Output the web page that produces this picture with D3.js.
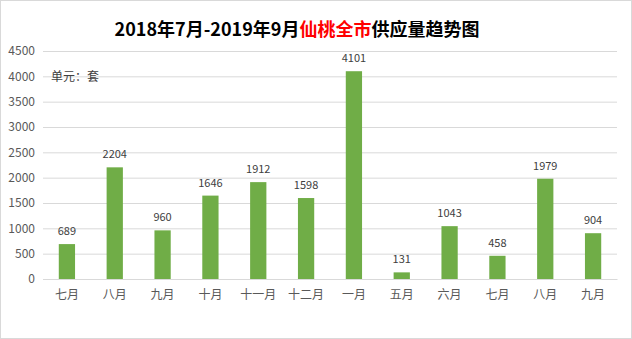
<!DOCTYPE html>
<html>
<head>
<meta charset="utf-8">
<script src="https://cdn.jsdelivr.net/npm/d3@7/dist/d3.min.js"></script>
<style>
  html, body { margin: 0; padding: 0; background: #fff; }
  svg { display: block; }
</style>
</head>
<body>
<svg id="chart" width="632" height="339"></svg>
<script>
// Monthly supply (units), Jul 2018 – Sep 2019
const months = ["七月", "八月", "九月", "十月", "十一月", "十二月", "一月", "五月", "六月", "七月", "八月", "九月"];
const supply = [689, 2204, 960, 1646, 1912, 1598, 4101, 131, 1043, 458, 1979, 904];
const yTicks = [0, 500, 1000, 1500, 2000, 2500, 3000, 3500, 4000, 4500];

const W = 632, H = 339;
const margin = { left: 43, right: 15, top: 51, bottom: 60 };
const svg = d3.select("#chart");
const font = "'Microsoft YaHei', 'Noto Sans CJK SC', 'Noto Sans', sans-serif";

// outer frame
svg.append("rect")
  .attr("x", 0.5).attr("y", 0.5).attr("width", W - 1).attr("height", H - 1)
  .attr("fill", "#fff").attr("stroke", "#d9d9d9");

const x = d3.scaleBand()
  .domain(months.map((m, i) => i))
  .range([margin.left, W - margin.right])
  .paddingInner(0.66).paddingOuter(0.33);

const y = d3.scaleLinear()
  .domain([0, 4500])
  .range([H - margin.bottom, margin.top]);

// gridlines + y labels
const yAxis = d3.axisLeft(y).tickValues(yTicks).tickFormat(d3.format("d"))
  .tickSize(-(W - margin.left - margin.right)).tickPadding(8);
const gy = svg.append("g").attr("transform", `translate(${margin.left},0)`).call(yAxis);
gy.select(".domain").remove();
gy.selectAll(".tick line").attr("stroke", "#d9d9d9");
gy.selectAll(".tick text").attr("fill", "#595959")
  .style("font-family", font).style("font-size", "12px");

// bars
svg.append("g").selectAll("rect").data(supply).join("rect")
  .attr("x", (d, i) => x(i))
  .attr("y", d => y(d))
  .attr("width", x.bandwidth())
  .attr("height", d => y(0) - y(d))
  .attr("fill", "#70ad47");

// value labels
svg.append("g").selectAll("text").data(supply).join("text")
  .attr("x", (d, i) => x(i) + x.bandwidth() / 2)
  .attr("y", d => y(d) - 9)
  .attr("text-anchor", "middle")
  .attr("fill", "#404040")
  .style("font-family", font).style("font-size", "11px")
  .text(d => d);

// x axis
const xAxis = d3.axisBottom(x).tickFormat(i => months[i]).tickSize(0).tickPadding(11);
const gx = svg.append("g").attr("transform", `translate(0,${y(0)})`).call(xAxis);
gx.select(".domain").attr("stroke", "#d9d9d9");
gx.selectAll(".tick text").attr("fill", "#595959")
  .style("font-family", font).style("font-size", "12px");

// unit note
svg.append("text")
  .attr("x", 51).attr("y", 81)
  .attr("fill", "#404040")
  .style("font-family", font).style("font-size", "12px")
  .text("单元：套");

// title
const title = svg.append("text")
  .attr("x", 297).attr("y", 36)
  .attr("text-anchor", "middle")
  .style("font-family", font).style("font-size", "18px").style("font-weight", "bold")
  .attr("fill", "#000");
title.append("tspan").text("2018年7月-2019年9月");
title.append("tspan").attr("fill", "#ff0000").text("仙桃全市");
title.append("tspan").text("供应量趋势图");
</script>
</body>
</html>
